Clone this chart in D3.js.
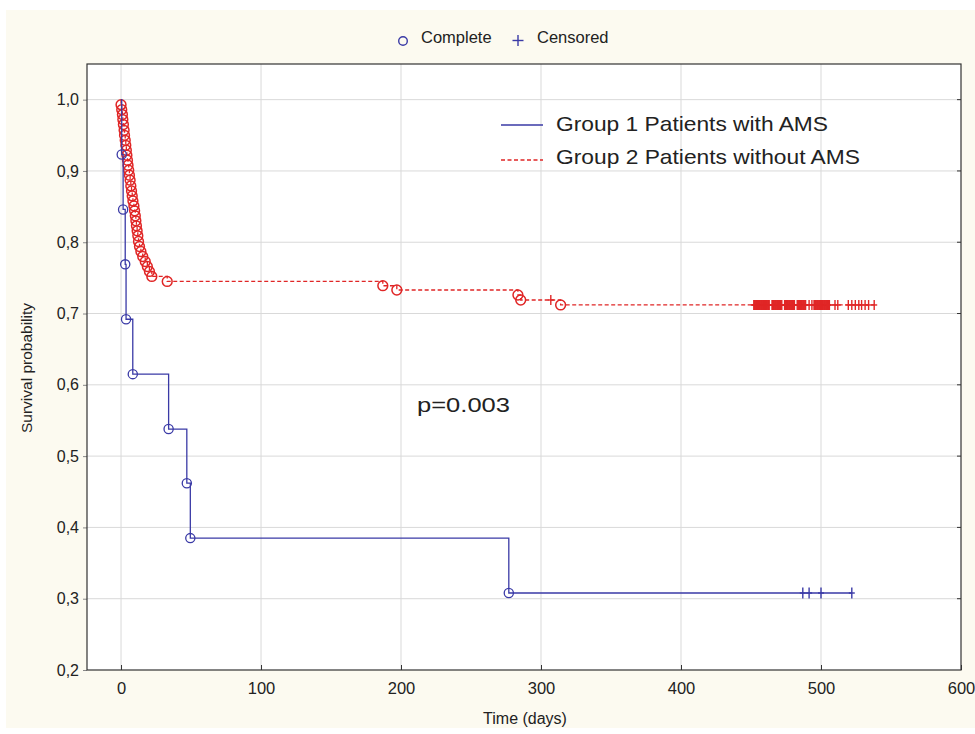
<!DOCTYPE html>
<html><head><meta charset="utf-8">
<script src="https://cdn.jsdelivr.net/npm/d3@7"></script>
<style>body{margin:0;background:#fff} text{font-family:"Liberation Sans",Arial,sans-serif;}</style>
</head><body>
<svg id="c" width="975" height="734"></svg>
<script>
// ---------- data ----------
const xTicks = [0, 100, 200, 300, 400, 500, 600];
const yTicks = [0.2, 0.3, 0.4, 0.5, 0.6, 0.7, 0.8, 0.9, 1.0];

// Group 1: Patients with AMS
const g1EventTimes = [0.5, 1.5, 3, 3.6, 8.4, 34, 47, 49.5, 277];
const g1EventSurv  = [0.923, 0.846, 0.769, 0.692, 0.615, 0.538, 0.462, 0.385, 0.308];
const g1CensorTimes = [487, 491.5, 500, 522];

// Group 2: Patients without AMS
const g2EventTimes = [0, 0.5, 1, 1.3, 1.7, 2.2, 2.5, 3, 3.4, 3.8, 4.2, 4.6, 5, 5.5, 6, 6.5, 7, 7.5, 8, 8.5,
                      9.2, 9.7, 10.2, 10.6, 11, 11.5, 12, 12.5, 13.2, 14.2, 15.5, 17.3, 18.8, 20.3, 22, 33,
                      187, 197, 283.5, 285.5, 314];
const g2EventSurv  = [0.993, 0.986, 0.979, 0.972, 0.965, 0.957, 0.950, 0.943, 0.936, 0.929, 0.922, 0.915,
                      0.908, 0.901, 0.894, 0.887, 0.879, 0.872, 0.865, 0.858, 0.851, 0.844, 0.837, 0.830,
                      0.823, 0.816, 0.809, 0.801, 0.794, 0.787, 0.780, 0.773, 0.766, 0.759, 0.752, 0.745,
                      0.739, 0.733, 0.726, 0.719, 0.712];
const g2CensorTimes = [307,
  452, 452.5, 453, 453.5, 454, 454.5, 455, 455.5, 456, 456.5, 457, 457.5, 458, 458.5, 459, 459.5, 460, 460.5, 461, 461.5, 462, 462.5, 463,
  465, 465.5, 466, 466.5, 467, 467.5, 468, 468.5, 469, 469.5, 470, 470.5, 471, 471.5, 472,
  474, 474.5, 475, 475.5, 476, 476.5, 477, 477.5, 478, 478.5, 479, 479.5, 480, 480.5, 481,
  483, 483.5, 484, 484.5, 485, 485.5, 486, 486.5, 487, 487.5, 488, 488.5, 489,
  491.5, 493.5,
  495, 495.5, 496, 496.5, 497, 497.5, 498, 498.5, 499, 499.5, 500, 500.5, 501, 501.5, 502, 502.5, 503, 503.5, 504, 504.5, 505, 505.5, 506,
  510, 512, 519.5, 522, 524.5, 527, 529, 531.5, 534, 538];

const legendNames = ["Group 1 Patients with AMS", "Group 2 Patients without AMS"];
const markerNames = ["Complete", "Censored"];
const pText = "p=0.003";

// ---------- layout ----------
const W = 975, H = 734;
const plot = {l: 87, t: 64, r: 961, b: 670};
const blue = "#3a3aa6", red = "#e02626";

const svg = d3.select("#c");
svg.append("rect").attr("width", W).attr("height", H).attr("fill", "#ffffff");
svg.append("rect").attr("x", 6).attr("y", 10).attr("width", W - 6).attr("height", H - 16).attr("fill", "#fcfaf0");
svg.append("rect").attr("x", plot.l).attr("y", plot.t).attr("width", plot.r - plot.l).attr("height", plot.b - plot.t).attr("fill", "#ffffff");

const x = d3.scaleLinear().domain([-24.3, 600]).range([plot.l, plot.r]);
const y = d3.scaleLinear().domain([0.2, 1.05]).range([plot.b, plot.t]);

// grid
svg.append("g").selectAll("line").data(yTicks.slice(1)).join("line")
  .attr("x1", plot.l).attr("x2", plot.r).attr("y1", d => y(d)).attr("y2", d => y(d))
  .attr("stroke", "#d9d9d9").attr("stroke-width", 1);
svg.append("g").selectAll("line").data(xTicks.slice(0, -1)).join("line")
  .attr("y1", plot.t).attr("y2", plot.b).attr("x1", d => x(d)).attr("x2", d => x(d))
  .attr("stroke", "#d9d9d9").attr("stroke-width", 1);

// axes
const fmtY = d => d3.format(".1f")(d).replace(".", ",");
const yAxis = svg.append("g").attr("transform", `translate(${plot.l},0)`)
  .call(d3.axisLeft(y).tickValues(yTicks).tickFormat(fmtY).tickSize(4).tickPadding(4));
yAxis.select(".domain").remove();
yAxis.selectAll("line").attr("stroke", "#888");
yAxis.selectAll("text").attr("font-size", 16).attr("fill", "#222").attr("font-family", '"Liberation Sans",Arial,sans-serif');

const xAxis = svg.append("g").attr("transform", `translate(0,${plot.b})`)
  .call(d3.axisBottom(x).tickValues(xTicks).tickFormat(d3.format("d")).tickSize(-5).tickPadding(12));
xAxis.select(".domain").remove();
xAxis.selectAll("line").attr("stroke", "#333");
xAxis.selectAll("text").attr("font-size", 16.5).attr("fill", "#222").attr("font-family", '"Liberation Sans",Arial,sans-serif');

// right inner ticks
svg.append("g").selectAll("line").data(yTicks.slice(1)).join("line")
  .attr("x1", plot.r - 4).attr("x2", plot.r).attr("y1", d => y(d)).attr("y2", d => y(d))
  .attr("stroke", "#333");

// frame
svg.append("rect").attr("x", plot.l).attr("y", plot.t).attr("width", plot.r - plot.l).attr("height", plot.b - plot.t)
  .attr("fill", "none").attr("stroke", "#333").attr("stroke-width", 1.2);

// axis titles
svg.append("text").attr("x", 525).attr("y", 724).attr("text-anchor", "middle")
  .attr("font-size", 16).attr("fill", "#222").text("Time (days)");
svg.append("text").attr("transform", "translate(32,368) rotate(-90)").attr("text-anchor", "middle")
  .attr("font-size", 15.5).attr("fill", "#222").text("Survival probability");

// ---------- curves ----------
function buildPath(evT, evS, cenT) {
  const pts = [{t: 0, s: 1}];
  evT.forEach((t, i) => pts.push({t, s: evS[i]}));
  const endT = d3.max(cenT);
  pts.push({t: endT, s: evS[evS.length - 1]});
  return pts;
}
function survAt(evT, evS, t) {
  let s = 1;
  evT.forEach((et, i) => { if (et <= t) s = evS[i]; });
  return s;
}
const line = d3.line().x(d => x(d.t)).y(d => y(d.s)).curve(d3.curveStepAfter);

function drawGroup(evT, evS, cenT, color, dash, hh, r, sw) {
  const g = svg.append("g");
  g.append("path").datum(buildPath(evT, evS, cenT)).attr("d", line)
    .attr("fill", "none").attr("stroke", color).attr("stroke-width", 1.3)
    .attr("stroke-dasharray", dash);
  g.selectAll("circle").data(evT.map((t, i) => ({t, s: evS[i]}))).join("circle")
    .attr("cx", d => x(d.t)).attr("cy", d => y(d.s)).attr("r", r)
    .attr("fill", "none").attr("stroke", color).attr("stroke-width", sw);
  const c = g.selectAll("g.cen").data(cenT.map(t => ({t, s: survAt(evT, evS, t)}))).join("g")
    .attr("transform", d => `translate(${x(d.t)},${y(d.s)})`);
  c.append("line").attr("y1", -hh).attr("y2", hh).attr("stroke", color).attr("stroke-width", 1.4);
  c.append("line").attr("x1", -3).attr("x2", 3).attr("stroke", color).attr("stroke-width", 1.4);
}
drawGroup(g2EventTimes, g2EventSurv, g2CensorTimes, red, "4,2.5", 5, 4.9, 1.5);
drawGroup(g1EventTimes, g1EventSurv, g1CensorTimes, blue, null, 5.5, 4.6, 1.3);

// ---------- in-plot legend ----------
const lg = svg.append("g");
lg.append("line").attr("x1", 501).attr("x2", 543).attr("y1", 125).attr("y2", 125)
  .attr("stroke", blue).attr("stroke-width", 1.3);
lg.append("line").attr("x1", 501).attr("x2", 543).attr("y1", 160).attr("y2", 160)
  .attr("stroke", red).attr("stroke-width", 1.3).attr("stroke-dasharray", "4,2.5");
lg.append("text").attr("x", 556).attr("y", 131).attr("font-size", 21).attr("fill", "#222")
  .attr("textLength", 272).attr("lengthAdjust", "spacingAndGlyphs").text(legendNames[0]);
lg.append("text").attr("x", 556).attr("y", 164).attr("font-size", 21).attr("fill", "#222")
  .attr("textLength", 304).attr("lengthAdjust", "spacingAndGlyphs").text(legendNames[1]);

svg.append("text").attr("x", 417).attr("y", 412).attr("font-size", 20.5).attr("fill", "#222")
  .attr("textLength", 93).attr("lengthAdjust", "spacingAndGlyphs").text(pText);

// ---------- top legend ----------
svg.append("circle").attr("cx", 403).attr("cy", 41).attr("r", 4.3)
  .attr("fill", "none").attr("stroke", blue).attr("stroke-width", 1.4);
svg.append("text").attr("x", 421).attr("y", 43).attr("font-size", 16.5).attr("fill", "#222").text(markerNames[0]);
svg.append("line").attr("x1", 518).attr("x2", 518).attr("y1", 35).attr("y2", 46).attr("stroke", blue).attr("stroke-width", 1.4);
svg.append("line").attr("x1", 512.5).attr("x2", 523.5).attr("y1", 40.5).attr("y2", 40.5).attr("stroke", blue).attr("stroke-width", 1.4);
svg.append("text").attr("x", 537).attr("y", 43).attr("font-size", 16.5).attr("fill", "#222").text(markerNames[1]);
</script>
</body></html>
